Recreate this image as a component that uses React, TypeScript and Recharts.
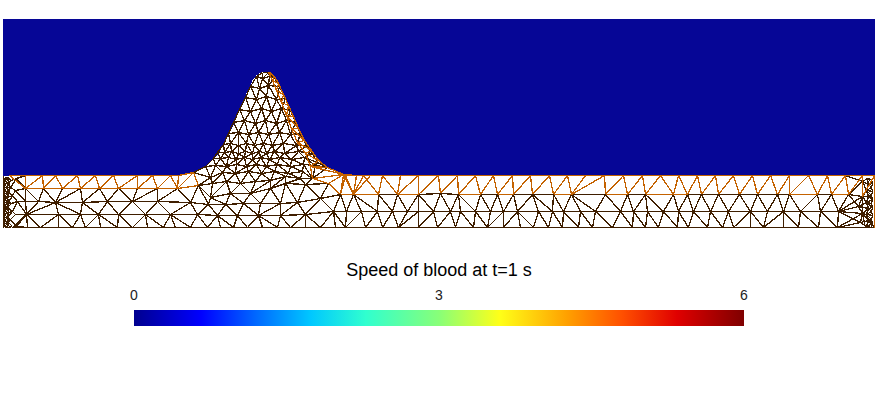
import { ComposedChart, BarChart, Area, Bar, Line, XAxis, YAxis } from "recharts";

type Node = [number, number];

// wall profile of the vessel, in mesh coordinates
const wallX = [2.5, 170, 180, 193, 203, 215, 220, 227, 233, 238, 243, 248, 252, 256, 260, 265, 270, 274, 278, 283, 288, 293, 298, 304, 311, 318, 327, 335, 343, 352, 370, 874.5];
const wallY = [175, 175, 174.5, 172, 167, 157, 150, 135, 125, 110, 100, 88, 80, 75, 72, 71, 72, 76, 83, 94, 105, 116, 128, 140, 150, 160, 167, 171, 174, 174.5, 175, 175];

// colour bar
const speedTicks = [0, 3, 6];
const speedMax = [6];
const jetOffsets = ["0%", "11%", "20%", "29%", "38%", "50%", "60%", "71%", "80%", "89%", "100%"];
const jetColors = ["#00008f", "#0000ff", "#0068ff", "#00c8ff", "#30ffcf", "#88ff78", "#ffff18", "#ffa000", "#ff5000", "#e00000", "#7f0000"];

// left part of the strip
const wallLeft: Node[] = [[9, 175], [25, 175], [42, 175], [55, 175], [77, 175], [95, 175], [113, 175], [137, 175], [152, 175], [170, 175], [178, 175], [193, 172]];
const rowL1: Node[] = [[25, 188], [43, 188], [62, 188], [80, 188], [99, 188], [118, 188], [137, 188], [157, 188], [177, 188], [198, 185]];
const rowL2: Node[] = [[25, 201], [38, 201], [55, 202], [82, 202], [107, 201], [132, 201], [157, 201], [190, 202], [208, 204], [225, 204], [243, 203], [260, 203], [280, 203], [297, 202], [320, 198], [340, 194]];
const rowL3: Node[] = [[26, 214], [58, 214], [80, 214], [98, 214], [118, 214], [145, 214], [170, 214], [197, 214], [217, 215], [237, 215], [258, 215], [280, 215], [305, 214], [333, 211]];

// right part of the strip
const wallRight: Node[] = [[345, 175], [363, 175], [382, 175], [400, 175], [418, 175], [438, 175], [457, 175], [475, 175], [493, 175], [512, 175], [530, 175], [549, 175], [567, 175], [585, 175], [604, 175], [623, 175], [642, 175], [660, 175], [678, 175], [697, 175], [715, 175], [733, 175], [752, 175], [770, 175], [789, 175], [808, 175], [827, 175], [845, 175], [862, 175], [874, 175]];
const rowA: Node[] = [[340, 194], [353, 194], [378, 194], [397, 194], [418, 194], [440, 193], [458, 194], [480, 194], [497, 194], [513, 194], [532, 194], [553, 194], [571, 194], [605, 194], [627, 194], [645, 194], [673, 194], [687, 194], [701, 194], [718, 194], [739, 194], [757, 194], [777, 194], [789, 194], [817, 194], [831, 194], [848, 194], [862, 196]];
const rowB: Node[] = [[333, 211], [346, 211], [361, 211], [377, 211], [392, 211], [407, 211], [418, 211], [433, 211], [450, 211], [460, 211], [475, 211], [490, 211], [503, 211], [517, 211], [538, 211], [552, 211], [563, 211], [580, 211], [595, 211], [620, 211], [633, 211], [647, 211], [663, 211], [678, 211], [693, 211], [710, 211], [728, 211], [750, 211], [767, 211], [783, 211], [800, 211], [820, 211], [838, 211], [862, 213]];
const rowBottom: Node[] = [[12, 227], [27, 227], [40, 227], [58, 227], [72, 227], [85, 227], [100, 227], [117, 227], [132, 227], [147, 227], [163, 227], [175, 227], [190, 227], [207, 227], [220, 227], [233, 227], [247, 227], [262, 227], [277, 227], [290, 227], [305, 227], [320, 227], [335, 227], [345, 227], [365, 227], [382, 227], [398, 227], [418, 227], [437, 227], [455, 227], [473, 227], [487, 227], [503, 227], [520, 227], [533, 227], [548, 227], [562, 227], [578, 227], [592, 227], [612, 227], [632, 227], [645, 227], [658, 227], [677, 227], [688, 227], [707, 227], [722, 227], [733, 227], [750, 227], [763, 227], [783, 227], [798, 227], [818, 227], [837, 227], [865, 227], [874, 227]];

// bump, from the tip down
const bumpRows: Node[][] = [
  [[262, 72], [268, 72]],
  [[256, 76], [262, 78], [269, 76], [274, 77]],
  [[250, 86], [259, 88], [268, 85], [279, 86]],
  [[245, 97], [256, 99], [266, 96], [276, 99], [285, 98]],
  [[239, 109], [250, 111], [261, 108], [271, 111], [281, 108], [290, 110]],
  [[233, 122], [244, 120], [255, 123], [265, 120], [276, 123], [286, 120], [295, 122]],
  [[228, 133], [238, 132], [248, 134], [258, 132], [268, 134], [279, 132], [290, 134], [300, 133]],
  [[223, 144], [230, 143], [238, 145], [246, 143], [254, 145], [263, 143], [272, 145], [283, 143], [296, 145], [306, 145]],
  [[217, 152], [224, 152], [231, 151], [238, 153], [245, 151], [252, 153], [259, 151], [266, 153], [274, 151], [284, 153], [298, 151], [312, 153]],
  [[213, 158], [220, 158], [228, 157], [236, 159], [244, 157], [252, 159], [260, 157], [269, 159], [279, 157], [291, 159], [304, 157], [317, 162]],
  [[205, 166], [215, 165], [226, 166], [236, 164], [246, 166], [256, 164], [266, 166], [277, 164], [290, 166], [303, 164], [315, 165], [327, 167]],
  [[193, 172], [210, 177], [222, 172], [235, 173], [248, 171], [261, 173], [274, 171], [288, 173], [302, 171], [312, 178]],
  [[198, 185], [212, 183], [226, 181], [240, 183], [255, 181], [270, 180], [285, 176], [300, 178], [312, 178]],
];
const rowCurve: Node[] = [[198, 185], [210, 197], [230, 193], [250, 193], [270, 188], [285, 183], [305, 184], [328, 183]];

// orange cells along the far wall of the bump
const bumpOuter: Node[] = [[270, 72], [274, 76], [278, 83], [283, 94], [288, 105], [293, 116], [298, 128], [304, 140], [311, 150], [318, 160], [327, 167], [343, 174]];
const bumpInner: Node[] = [[268, 72], [272, 80], [276, 90], [281, 102], [286, 115], [291, 128], [297, 142], [305, 153], [310, 166], [312, 178], [328, 183]];
const wallJoin: Node[] = [[343, 174], [356, 175], [370, 175]];
const joinLower: Node[] = [[328, 183], [340, 194], [353, 194]];
const rowAOrange: Node[][] = [
  [[340, 194], [378, 194]],
  [[397, 194], [418, 194]],
  [[458, 194], [480, 194]],
  [[497, 194], [513, 194]],
  [[553, 194], [571, 194]],
  [[605, 194], [627, 194]],
  [[645, 194], [687, 194]],
  [[789, 194], [817, 194]],
  [[831, 194], [848, 194]],
];

// packed columns at the two ends
const endL0: Node[] = [[25, 175], [25, 188], [25, 201], [26, 214], [27, 227]];
const endL1: Node[] = [[16, 178], [15, 190], [17, 201], [15, 214], [16, 226]];
const endL2: Node[] = [[11, 180], [10, 187], [12, 195], [11, 203], [12, 211], [10, 219], [12, 226]];
const endL3: Node[] = [[7, 177], [8, 182], [7, 187], [8, 192], [7, 197], [8, 202], [7, 207], [8, 212], [7, 217], [8, 222], [7, 227]];
const endL4: Node[] = [[3, 175], [3, 227]];
const endL4Nodes: Node[] = [[4, 178], [4, 181], [4, 184], [4, 187], [4, 190], [4, 193], [4, 196], [4, 199], [4, 202], [4, 205], [4, 208], [4, 211], [4, 214], [4, 217], [4, 220], [4, 223], [4, 226]];
const endR0: Node[] = [[845, 175], [848, 194], [838, 211], [837, 227]];
const endR1: Node[] = [[862, 181], [862, 196], [858, 206], [862, 213], [860, 222]];
const endR2: Node[] = [[867, 178], [868, 184], [866, 190], [868, 196], [866, 202], [868, 208], [866, 214], [868, 220], [866, 226]];
const endR3: Node[] = [[871, 179], [872, 183], [871, 187], [872, 191], [871, 195], [872, 199], [871, 203], [872, 207], [871, 211], [872, 215], [871, 219], [872, 223], [871, 227]];
const endR4: Node[] = [[874, 175], [874, 227]];

type Pt = { x: number; y: number | null };

function addEdge(out: Pt[], a: Node, b: Node) {
  out.push({ x: a[0], y: a[1] }, { x: b[0], y: b[1] }, { x: b[0], y: null });
}

function along(out: Pt[], row: Node[]) {
  for (let i = 0; i < row.length - 1; i++) addEdge(out, row[i], row[i + 1]);
}

// joins two rows of nodes with the triangle edges between them
function across(out: Pt[], a: Node[], b: Node[], axis = 0) {
  let i = 0;
  let j = 0;
  addEdge(out, a[0], b[0]);
  while (i < a.length - 1 || j < b.length - 1) {
    if (j === b.length - 1 || (i < a.length - 1 && a[i + 1][axis] <= b[j + 1][axis])) i++;
    else j++;
    addEdge(out, a[i], b[j]);
  }
}

const dark: Pt[] = [];
const orange: Pt[] = [];

[rowL2, rowL3, rowA, rowB, rowBottom, rowCurve, endL3, endL4Nodes, endL4, endR1, endR2, endR3].forEach((r) => along(dark, r));
across(dark, rowL1, rowL2.slice(0, 8));
across(dark, rowL2.slice(0, 8), rowL3.slice(0, 8));
across(dark, rowL2.slice(7), rowL3.slice(7));
across(dark, rowL3, rowBottom.slice(0, 23));
across(dark, rowA, rowB);
across(dark, rowB, rowBottom.slice(22));
bumpRows.forEach((r, i) => {
  along(dark, r);
  if (i > 0) across(dark, bumpRows[i - 1], r);
});
across(dark, bumpRows[bumpRows.length - 1], rowCurve);
across(dark, rowCurve, rowL2.slice(7));
across(dark, endL0, endL1, 1);
across(dark, endL1, endL2, 1);
across(dark, endL2, endL3, 1);
across(dark, endL3, endL4Nodes, 1);
across(dark, endR0, endR1, 1);
across(dark, endR1, endR2, 1);
across(dark, endR2, endR3, 1);

[wallLeft, rowL1, wallRight, wallJoin, bumpOuter, bumpInner, endR4, joinLower].forEach((r) => along(orange, r));
rowAOrange.forEach((r) => along(orange, r));
across(orange, wallLeft, rowL1);
across(orange, wallRight, rowA);
across(orange, bumpOuter, bumpInner, 1);
across(orange, wallJoin, joinLower);

const wallData = wallX.map((x, i) => ({ x, wall: wallY[i] }));
const barData = speedMax.map((speed) => ({ name: "speed", speed }));

export default function App() {
  return (
    <div style={{ position: "absolute", left: 0, top: 0, width: 877, height: 394, background: "#fff" }}>
      <style>{`.mesh path { shape-rendering: crispEdges; }`}</style>
      <div className="mesh" style={{ position: "absolute", left: 0, top: 0 }}>
        <ComposedChart width={877} height={394} margin={{ top: 19, right: 2, bottom: 166, left: 3 }}>
          <XAxis type="number" dataKey="x" domain={[2.5, 874.5]} hide allowDataOverflow />
          <YAxis type="number" domain={[18.5, 227.5]} reversed hide allowDataOverflow />
          <Area data={wallData} dataKey="wall" type="linear" baseValue={18.5} fill="#060696" fillOpacity={1} stroke="none" dot={false} activeDot={false} isAnimationActive={false} />
          <Line data={dark} dataKey="y" stroke="#3f1e00" strokeWidth={1.3} dot={false} activeDot={false} isAnimationActive={false} />
          <Line data={orange} dataKey="y" stroke="#c46200" strokeWidth={1.3} dot={false} activeDot={false} isAnimationActive={false} />
        </ComposedChart>
      </div>
      <div style={{ position: "absolute", left: 0, top: 255 }}>
        <BarChart width={877} height={80} layout="vertical" data={barData} barCategoryGap={0} margin={{ top: 0, right: 133, bottom: 9, left: 134 }}>
          <defs>
            <linearGradient id="jet" x1="0" y1="0" x2="1" y2="0">
              {jetColors.map((c, i) => <stop key={c} offset={jetOffsets[i]} stopColor={c} />)}
            </linearGradient>
          </defs>
          <XAxis
            type="number"
            orientation="top"
            height={55}
            domain={[0, 6]}
            ticks={speedTicks}
            interval={0}
            axisLine={false}
            tickLine={false}
            tickSize={0}
            tickMargin={10}
            tick={{ fill: "#222", fontSize: 14, fontFamily: "Liberation Sans" }}
            label={{ value: "Speed of blood at t=1 s", position: "insideTop", offset: 8, fill: "#000", fontSize: 18, fontFamily: "Liberation Sans" }}
          />
          <YAxis type="category" dataKey="name" hide />
          <Bar dataKey="speed" fill="url(#jet)" isAnimationActive={false} />
        </BarChart>
      </div>
    </div>
  );
}
